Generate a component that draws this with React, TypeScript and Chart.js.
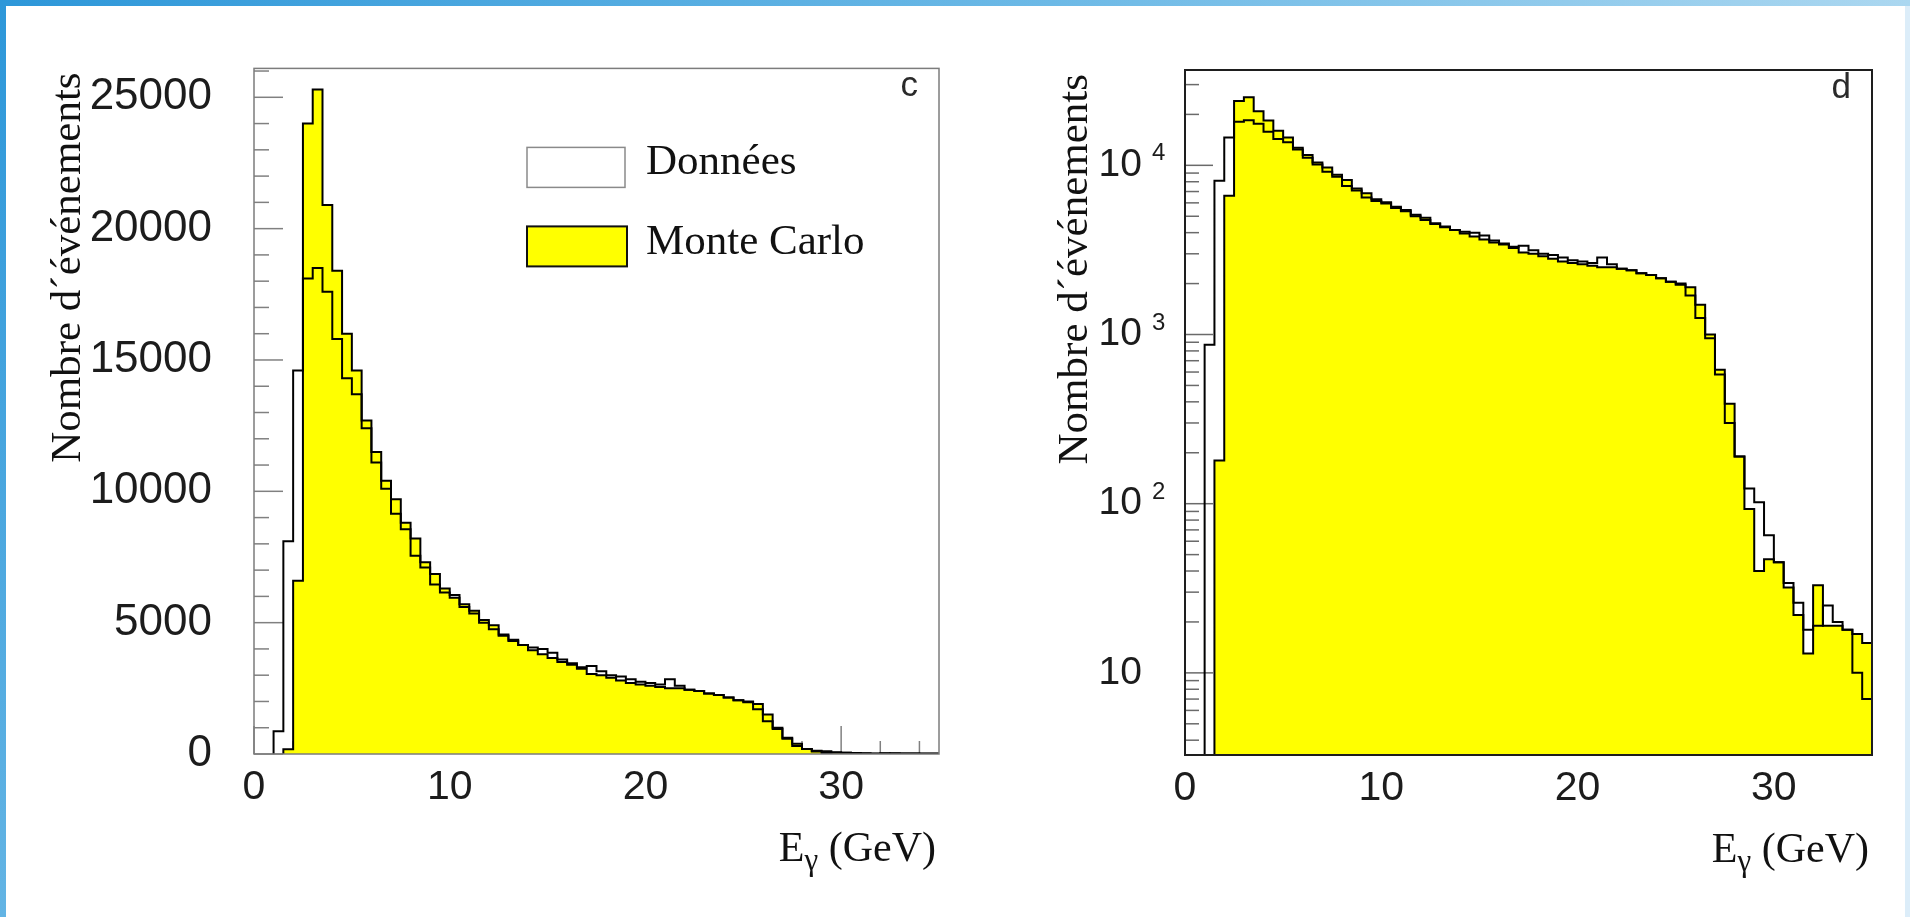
import React, { useEffect, useRef } from "react";
import { Chart, registerables } from "chart.js";

Chart.register(...registerables);

// ---------- data ----------
// Bin edges in GeV (0.5 GeV bins from 0 to 35)
const binEdges = [
  0, 0.5, 1, 1.5, 2, 2.5, 3, 3.5, 4, 4.5, 5, 5.5, 6, 6.5, 7, 7.5, 8, 8.5, 9, 9.5,
  10, 10.5, 11, 11.5, 12, 12.5, 13, 13.5, 14, 14.5, 15, 15.5, 16, 16.5, 17, 17.5, 18, 18.5, 19, 19.5,
  20, 20.5, 21, 21.5, 22, 22.5, 23, 23.5, 24, 24.5, 25, 25.5, 26, 26.5, 27, 27.5, 28, 28.5, 29, 29.5,
  30, 30.5, 31, 31.5, 32, 32.5, 33, 33.5, 34, 34.5, 35,
];

// "Données" (data) counts per bin
const donneesCounts = [
  0, 0, 870, 8100, 14600, 18100, 18500, 17600, 15800, 14300,
  13700, 12400, 11100, 10100, 9150, 8560, 7550, 7100, 6450, 6150,
  6050, 5600, 5350, 5000, 4750, 4500, 4300, 4150, 4050, 4000,
  3850, 3600, 3450, 3300, 3350, 3150, 3000, 2950, 2850, 2750,
  2700, 2650, 2850, 2600, 2450, 2400, 2300, 2250, 2150, 2050,
  2000, 1700, 1250, 950, 580, 300, 190, 123, 102, 65,
  45, 34, 26, 18, 19, 25, 20, 18, 10, 7,
];

// "Monte Carlo" counts per bin
const monteCarloCounts = [
  0, 0, 0, 180, 6600, 24000, 25300, 20900, 18400, 16000,
  14600, 12700, 11500, 10400, 9700, 8800, 8200, 7300, 6850, 6300,
  5950, 5700, 5450, 5100, 4900, 4550, 4350, 4150, 3950, 3800,
  3650, 3500, 3400, 3250, 3050, 3000, 2900, 2800, 2700, 2650,
  2600, 2550, 2500, 2500, 2450, 2400, 2300, 2250, 2150, 2050,
  1970, 1900, 1500, 1000, 620, 390, 190, 93, 40, 47,
  45, 32, 22, 13, 33, 19, 19, 18, 17, 15,
];

const legendLabels = ["Données", "Monte Carlo"];
const yTitle = "Nombre d´événements";
const xTitleMain = "E";
const xTitleSub = "γ";
const xTitleRest = " (GeV)";
const xTickValues = [0, 10, 20, 30];
const linYTickValues = [0, 5000, 10000, 15000, 20000, 25000];
const logDecades = [10, 100, 1000, 10000];
const logExponents = ["", "2", "3", "4"];
const panelLetters = ["c", "d"];

const X_MIN = 0;
const X_MAX = 35;
const X_MAJOR = 10;
const X_MINOR = 2;
const LIN_Y_MAX = 26100;
const LIN_Y_MAJOR = 5000;
const LIN_Y_MINOR = 1000;
const LOG_Y_MIN = 3.27;
const LOG_Y_MAX = 36600;

// ---------- style ----------
const SANS = '"Liberation Sans", Arial, Helvetica, sans-serif';
const SERIF = '"Liberation Serif", "Times New Roman", serif';
const YELLOW = "#ffff00";
const H = 917;

type Spec = {
  key: "c" | "d";
  log: boolean;
  left: number;
  width: number;
  area: { left: number; top: number; right: number; bottom: number };
  frameColor: string;
  frameWidth: number;
  tickColor: string;
  yTitleBaseline: number;
  yLabelFont: number;
  legend: boolean;
};

const specs: Spec[] = [
  {
    key: "c",
    log: false,
    left: 0,
    width: 960,
    area: { left: 254, top: 68, right: 939, bottom: 754 },
    frameColor: "#7c7c7c",
    frameWidth: 1.5,
    tickColor: "#808080",
    yTitleBaseline: 174,
    yLabelFont: 44,
    legend: true,
  },
  {
    key: "d",
    log: true,
    left: 960,
    width: 950,
    area: { left: 225, top: 70, right: 912, bottom: 755 },
    frameColor: "#1e1e1e",
    frameWidth: 2,
    tickColor: "#6a6a6a",
    yTitleBaseline: 98,
    yLabelFont: 39,
    legend: false,
  },
];

function histogramPoints(counts: number[], floor: number) {
  let first = -1;
  let last = -1;
  counts.forEach((v, i) => {
    if (v > 0) {
      if (first < 0) first = i;
      last = i;
    }
  });
  const pts: { x: number; y: number }[] = [{ x: binEdges[first], y: floor }];
  for (let i = first; i <= last; i++) {
    pts.push({ x: binEdges[i], y: counts[i] > 0 ? counts[i] : floor });
  }
  pts.push({ x: binEdges[last + 1], y: counts[last] });
  pts.push({ x: binEdges[last + 1], y: floor });
  return pts;
}

function line(ctx: CanvasRenderingContext2D, x1: number, y1: number, x2: number, y2: number) {
  ctx.beginPath();
  ctx.moveTo(x1, y1);
  ctx.lineTo(x2, y2);
  ctx.stroke();
}

const decorPlugin = {
  id: "histoDecor",
  beforeDatasetsDraw(chart: any, _args: any, opts: any) {
    const spec: Spec = opts.spec;
    const { ctx, chartArea: a } = chart;
    const xs = chart.scales.x;
    const ys = chart.scales.y;
    ctx.save();
    ctx.strokeStyle = spec.tickColor;
    ctx.lineWidth = 1.5;
    for (let v = X_MIN; v <= X_MAX + 1e-9; v += X_MINOR) {
      const px = xs.getPixelForValue(v);
      const len = Math.abs(v % X_MAJOR) < 1e-9 ? 28 : 13;
      line(ctx, px, a.bottom, px, a.bottom - len);
    }
    if (!spec.log) {
      for (let v = 0; v <= LIN_Y_MAX; v += LIN_Y_MINOR) {
        const py = ys.getPixelForValue(v);
        const len = v % LIN_Y_MAJOR === 0 ? 29 : 15;
        line(ctx, a.left, py, a.left + len, py);
      }
    } else {
      for (let e = 0; e <= 4; e++) {
        for (let m = 1; m <= 9; m++) {
          const v = m * Math.pow(10, e);
          if (v < LOG_Y_MIN || v > LOG_Y_MAX) continue;
          const py = ys.getPixelForValue(v);
          const len = m === 1 ? 28 : 14;
          line(ctx, a.left, py, a.left + len, py);
        }
      }
    }
    ctx.restore();
  },
  afterDatasetsDraw(chart: any, _args: any, opts: any) {
    const spec: Spec = opts.spec;
    const { ctx, chartArea: a } = chart;
    const ys = chart.scales.y;
    ctx.save();
    ctx.strokeStyle = spec.frameColor;
    ctx.lineWidth = spec.frameWidth;
    ctx.strokeRect(a.left, a.top, a.right - a.left, a.bottom - a.top);

    ctx.fillStyle = "#1c1c1c";
    if (spec.log) {
      logDecades.forEach((v, i) => {
        const py = ys.getPixelForValue(v);
        ctx.font = `${spec.yLabelFont}px ${SANS}`;
        ctx.textAlign = "right";
        ctx.textBaseline = "middle";
        ctx.fillText("10", a.left - 43, py);
        if (logExponents[i]) {
          ctx.font = `24px ${SANS}`;
          ctx.textAlign = "left";
          ctx.textBaseline = "alphabetic";
          ctx.fillText(logExponents[i], a.left - 33, py - 5);
        }
      });
    }

    ctx.fillStyle = "#111";
    ctx.save();
    ctx.font = `43px ${SERIF}`;
    ctx.translate(a.left - spec.yTitleBaseline, a.top + 4);
    ctx.rotate(-Math.PI / 2);
    ctx.textAlign = "right";
    ctx.textBaseline = "alphabetic";
    ctx.fillText(yTitle, 0, 0);
    ctx.restore();

    const base = a.bottom + 107;
    ctx.textAlign = "left";
    ctx.textBaseline = "alphabetic";
    ctx.font = `42px ${SERIF}`;
    const wE = ctx.measureText(xTitleMain).width;
    const wR = ctx.measureText(xTitleRest).width;
    ctx.font = `31px ${SERIF}`;
    const wG = ctx.measureText(xTitleSub).width;
    const x0 = a.right - 3 - (wE + wG + wR);
    ctx.font = `42px ${SERIF}`;
    ctx.fillText(xTitleMain, x0, base);
    ctx.font = `31px ${SERIF}`;
    ctx.fillText(xTitleSub, x0 + wE, base + 9);
    ctx.font = `42px ${SERIF}`;
    ctx.fillText(xTitleRest, x0 + wE + wG, base);

    ctx.font = `35px ${SANS}`;
    ctx.fillStyle = "#2a2a2a";
    ctx.textAlign = "right";
    ctx.fillText(spec.key === "c" ? panelLetters[0] : panelLetters[1], a.right - 21, a.top + 28);

    if (spec.legend) {
      const bx = a.left + 273;
      ctx.fillStyle = "#ffffff";
      ctx.fillRect(bx, a.top + 79, 98, 40);
      ctx.strokeStyle = "#8a8a8a";
      ctx.lineWidth = 1.5;
      ctx.strokeRect(bx, a.top + 79, 98, 40);
      ctx.fillStyle = YELLOW;
      ctx.fillRect(bx, a.top + 158, 100, 40);
      ctx.strokeStyle = "#111";
      ctx.lineWidth = 2;
      ctx.strokeRect(bx, a.top + 158, 100, 40);
      ctx.fillStyle = "#111";
      ctx.font = `43px ${SERIF}`;
      ctx.textAlign = "left";
      ctx.fillText(legendLabels[0], a.left + 392, a.top + 106);
      ctx.fillText(legendLabels[1], a.left + 392, a.top + 186);
    }
    ctx.restore();
  },
};

function buildConfig(spec: Spec): any {
  const floor = spec.log ? 1 : 0;
  const area = spec.area;
  return {
    type: "line",
    data: {
      datasets: [
        {
          label: legendLabels[0],
          data: histogramPoints(donneesCounts, floor),
          stepped: "before",
          borderColor: "#000",
          borderWidth: 2,
          pointRadius: 0,
          fill: false,
          tension: 0,
        },
        {
          label: legendLabels[1],
          data: histogramPoints(monteCarloCounts, floor),
          stepped: "before",
          borderColor: "#000",
          borderWidth: 2,
          backgroundColor: YELLOW,
          pointRadius: 0,
          fill: "start",
          tension: 0,
        },
      ],
    },
    options: {
      animation: false,
      responsive: false,
      devicePixelRatio: 1,
      events: [],
      layout: {
        autoPadding: false,
        padding: {
          left: 0,
          top: area.top,
          right: spec.width - area.right,
          bottom: 0,
        },
      },
      plugins: {
        legend: { display: false },
        tooltip: { enabled: false },
        title: { display: false },
        histoDecor: { spec },
      },
      scales: {
        x: {
          type: "linear",
          position: "bottom",
          min: X_MIN,
          max: X_MAX,
          afterFit: (s: any) => {
            s.height = H - area.bottom;
          },
          afterBuildTicks: (s: any) => {
            s.ticks = xTickValues.map((v) => ({ value: v }));
          },
          grid: { display: false, drawTicks: false },
          border: { display: false },
          ticks: {
            autoSkip: false,
            maxRotation: 0,
            minRotation: 0,
            includeBounds: false,
            padding: 9,
            color: "#1c1c1c",
            font: { family: SANS, size: 41 },
            callback: (v: any) => String(v),
          },
        },
        y: spec.log
          ? {
              type: "logarithmic",
              position: "left",
              min: LOG_Y_MIN,
              max: LOG_Y_MAX,
              afterFit: (s: any) => {
                s.width = area.left;
              },
              grid: { display: false, drawTicks: false },
              border: { display: false },
              ticks: { display: false },
            }
          : {
              type: "linear",
              position: "left",
              min: 0,
              max: LIN_Y_MAX,
              afterFit: (s: any) => {
                s.width = area.left;
              },
              afterBuildTicks: (s: any) => {
                s.ticks = linYTickValues.map((v) => ({ value: v }));
              },
              grid: { display: false, drawTicks: false },
              border: { display: false },
              ticks: {
                autoSkip: false,
                includeBounds: false,
                padding: 42,
                color: "#1c1c1c",
                font: { family: SANS, size: spec.yLabelFont },
                callback: (v: any) => String(v),
              },
            },
      },
    },
    plugins: [decorPlugin],
  };
}

function Panel({ spec }: { spec: Spec }) {
  const ref = useRef<HTMLCanvasElement | null>(null);
  useEffect(() => {
    if (!ref.current) return;
    const chart = new Chart(ref.current, buildConfig(spec));
    return () => chart.destroy();
  }, [spec]);
  return (
    <canvas
      ref={ref}
      width={spec.width}
      height={H}
      style={{ position: "absolute", left: spec.left, top: 0, width: spec.width, height: H, display: "block" }}
    />
  );
}

export default function App() {
  return (
    <div
      style={{
        position: "fixed",
        left: 0,
        top: 0,
        width: 1910,
        height: H,
        background: "#ffffff",
        overflow: "hidden",
      }}
    >
      {specs.map((s) => (
        <Panel key={s.key} spec={s} />
      ))}
      <div
        style={{
          position: "absolute",
          left: 0,
          top: 0,
          width: 1910,
          height: 6,
          background: "linear-gradient(to right, #2d97d9, #6cb9e6 55%, #abd7f0)",
        }}
      />
      <div
        style={{
          position: "absolute",
          left: 0,
          top: 0,
          width: 6,
          height: H,
          background: "linear-gradient(to bottom, #2d97d9, #63b4e4)",
        }}
      />
      <div
        style={{
          position: "absolute",
          left: 1905,
          top: 6,
          width: 5,
          height: H - 6,
          background: "#dcedf9",
        }}
      />
    </div>
  );
}
